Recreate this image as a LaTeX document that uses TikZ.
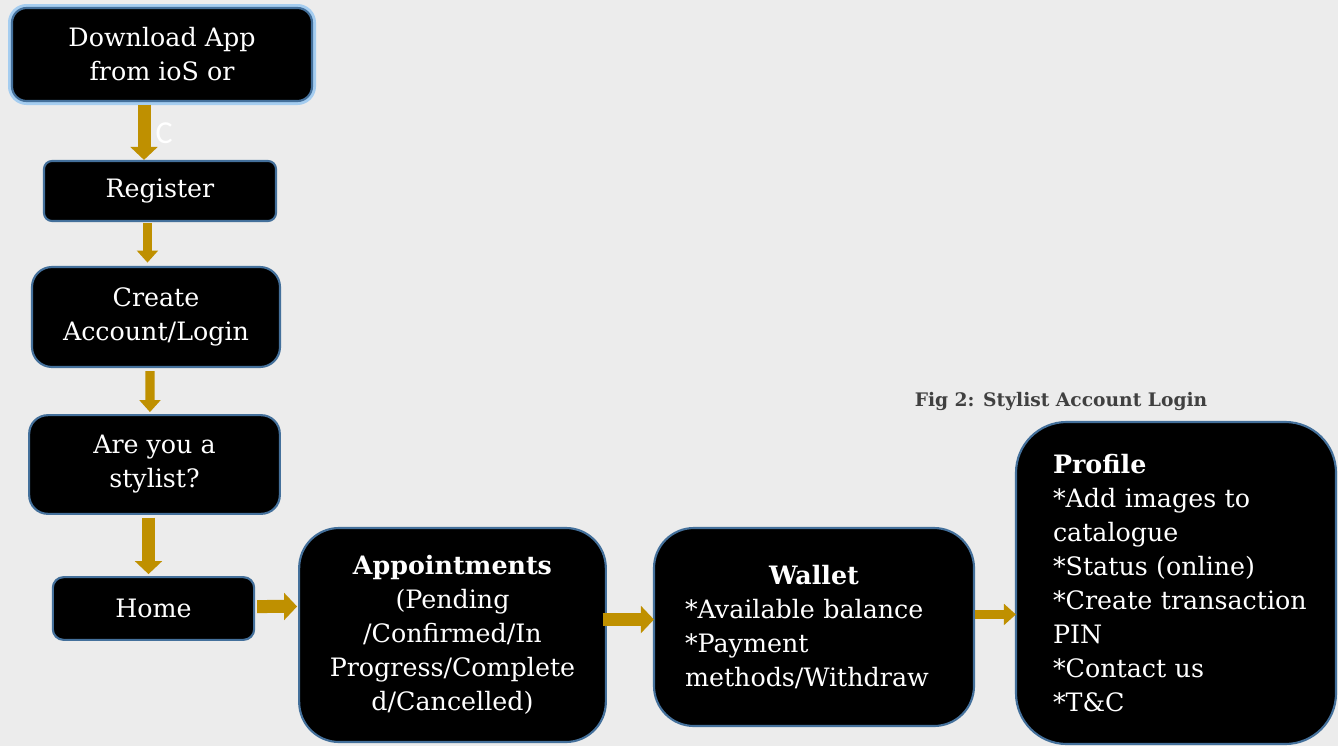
\documentclass[tikz,border=0pt]{standalone}
\usepackage{fontspec}
\setmainfont{DejaVu Serif}
\newfontfamily\labelfont{Carlito}
\usetikzlibrary{arrows.meta}
\definecolor{bggray}{RGB}{236,236,236}
\definecolor{boxblue}{RGB}{68,112,155}
\definecolor{glowblue}{RGB}{165,205,240}
\definecolor{arrowgold}{RGB}{191,144,0}
\definecolor{captiongray}{RGB}{64,64,64}

\tikzset{
  stepbox/.style={draw=boxblue, line width=1.6pt, fill=black, text=white,
    font=\fontsize{19}{25.5}\selectfont, align=center, inner sep=0pt},
  glowbox/.style={preaction={draw=glowblue, line width=6pt}},
  flow/.style={draw=arrowgold, line width=9.75pt, -{Triangle[length=9.75pt,width=20pt]}},
  thinflow/.style={draw=arrowgold, line width=7pt, -{Triangle[length=9pt,width=15.5pt]}}
}

\begin{document}
\begin{tikzpicture}[x=0.75pt, y=-0.75pt]

% Background
\fill[bggray] (0,0) rectangle (1338,746);
\useasboundingbox (0,0) rectangle (1338,746);

% Left column
\node[stepbox, glowbox, rounded corners=11pt, minimum width=225pt, minimum height=69.75pt]
  (download) at (162,54.5) {Download App\\from ioS or};
\node[stepbox, rounded corners=6pt, minimum width=174pt, minimum height=45pt]
  (register) at (160,191) {Register};
\node[stepbox, rounded corners=15pt, minimum width=186pt, minimum height=75pt]
  (account) at (156,317) {Create\\Account/Login};
\node[stepbox, rounded corners=14pt, minimum width=188pt, minimum height=74pt]
  (stylist) at (154.5,464.5) {Are you a\\stylist?};
\node[stepbox, rounded corners=8pt, minimum width=151pt, minimum height=47pt]
  (home) at (153.5,608.5) {Home};

% Bottom row
\node[stepbox, rounded corners=30pt, minimum width=230pt, minimum height=160.5pt]
  (appointments) at (452.5,635)
  {\textbf{Appointments}\\(Pending\\/Confirmed/In\\Progress/Complete\\d/Cancelled)};
\node[stepbox, align=left, text width=193.5pt, rounded corners=30pt,
  minimum width=240pt, minimum height=148.5pt]
  (wallet) at (814,627)
  {\makebox[\hsize]{\textbf{Wallet}}\\{*}Available balance\\{*}Payment\\methods/Withdraw};
\node[stepbox, align=left, text width=184.5pt, rounded corners=38pt,
  minimum width=240pt, minimum height=241.5pt]
  (profile) at (1176,583)
  {\textbf{Profile}\\{*}Add images to\\catalogue\\{*}Status (online)\\\mbox{*Create transaction}\\PIN\\{*}Contact us\\{*}T\&C};

% Caption
\node[text=captiongray, font=\fontsize{14}{16}\selectfont\bfseries]
  (caption) at (1061,401) {Fig 2: Stylist Account Login};

% Arrows
\draw[flow] ([xshift=-13.5pt,yshift=-2pt]download.south) -- ([xshift=-12pt]register.north)
  node[pos=0.52, right=0.5pt, text=white, font=\labelfont\fontsize{24}{26}\selectfont] (cmark) {C};
\draw[thinflow] ([xshift=-9.4pt,yshift=-1pt]register.south) -- ([xshift=-6.4pt,yshift=2.5pt]account.north);
\draw[thinflow] ([xshift=-4.5pt,yshift=-2.25pt]account.south) -- ([xshift=-3.4pt,yshift=1.5pt]stylist.north);
\draw[flow] ([xshift=-4.5pt,yshift=-2pt]stylist.south) -- ([xshift=-3.75pt,yshift=1.5pt]home.north);
\draw[flow] ([xshift=1.5pt,yshift=1.5pt]home.east) -- ([xshift=-0.75pt,yshift=21.4pt]appointments.west);
\draw[flow] ([xshift=-3.2pt,yshift=11.6pt]appointments.east) -- ([xshift=0.75pt,yshift=5.6pt]wallet.west);
\draw[thinflow] ([yshift=9.4pt]wallet.east) -- ([xshift=0.75pt,yshift=-23.6pt]profile.west);

\end{tikzpicture}
\end{document}
